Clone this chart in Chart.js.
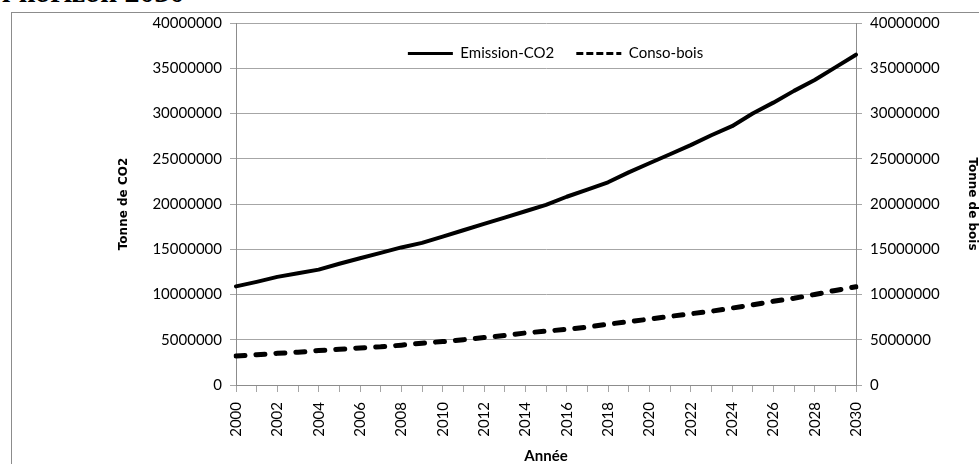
<!DOCTYPE html>
<html>
<head>
<meta charset="utf-8">
<script src="https://cdn.jsdelivr.net/npm/chart.js@4/dist/chart.umd.min.js"></script>
<style>
  html, body { margin: 0; padding: 0; background: #ffffff; }
  #wrap { position: relative; width: 979px; height: 464px; overflow: hidden; background: #ffffff; }
  #frame { position: absolute; left: 11px; top: 12px; width: 1000px; height: 500px;
           border-left: 1px solid #8c8c8c; border-top: 1px solid #8c8c8c; }
  #heading { position: absolute; left: 2px; top: -23px; margin: 0; white-space: nowrap;
             font-family: "Liberation Serif", "Times New Roman", serif; font-weight: bold;
             font-size: 30px; line-height: 30px; color: #000; }
  canvas { position: absolute; left: 0; top: 0; }
</style>
</head>
<body>
<div id="wrap">
  <div id="heading">l'horizon 2030</div>
  <div id="frame"></div>
  <canvas id="chart" width="979" height="464"></canvas>
</div>
<script>
// Years on the horizontal axis
const years = ['2000','2001','2002','2003','2004','2005','2006','2007','2008','2009',
               '2010','2011','2012','2013','2014','2015','2016','2017','2018','2019',
               '2020','2021','2022','2023','2024','2025','2026','2027','2028','2029','2030'];

// CO2 emissions (tonnes)
const emissionCO2 = [10900000, 11400000, 11950000, 12350000, 12750000, 13400000, 14000000,
                     14600000, 15200000, 15700000, 16400000, 17100000, 17800000, 18500000,
                     19200000, 19900000, 20800000, 21600000, 22400000, 23500000, 24500000,
                     25500000, 26500000, 27600000, 28600000, 30000000, 31200000, 32500000,
                     33700000, 35100000, 36500000];

// Wood consumption (tonnes)
const consoBois = [3200000, 3350000, 3500000, 3620000, 3800000, 3950000, 4100000, 4220000,
                   4400000, 4620000, 4800000, 5000000, 5250000, 5470000, 5750000, 5950000,
                   6150000, 6400000, 6720000, 7000000, 7280000, 7580000, 7870000, 8150000,
                   8500000, 8850000, 9250000, 9580000, 10000000, 10450000, 10850000];

// Shared value ticks for both vertical axes
const yMin = 0;
const yMax = 40000000;
const yStep = 5000000;

const gridGrey = '#a6a6a6';
const axisGrey = '#8c8c8c';
const tickFont = { family: 'Lato, "Open Sans", sans-serif', size: 15 };

// The legend takes no layout room; it is then placed inside the top of the plot
const legendInPlot = {
  id: 'legendInPlot',
  afterLayout(chart) {
    const lg = chart.legend;
    if (!lg) return;
    lg.top = 24;
    lg.bottom = 100;
    lg.height = 76;
    lg.left += 66;
    lg.right += 66;
  }
};

new Chart(document.getElementById('chart'), {
  type: 'line',
  data: {
    labels: years,
    datasets: [
      {
        label: 'Emission-CO2',
        data: emissionCO2,
        yAxisID: 'y',
        borderColor: '#000000',
        backgroundColor: '#000000',
        borderWidth: 4,
        pointRadius: 0,
        tension: 0,
        borderCapStyle: 'round',
        borderJoinStyle: 'round'
      },
      {
        label: 'Conso-bois',
        data: consoBois,
        yAxisID: 'y1',
        borderColor: '#000000',
        backgroundColor: '#000000',
        borderWidth: 5,
        borderDash: [9, 11],
        borderCapStyle: 'round',
        pointRadius: 0,
        tension: 0
      }
    ]
  },
  options: {
    responsive: false,
    animation: false,
    layout: { padding: { left: 0, right: 0, top: 22, bottom: 0 } },
    plugins: {
      tooltip: { enabled: false },
      title: { display: false },
      legend: {
        display: true,
        position: 'top',
        align: 'center',
        maxHeight: 1,
        labels: {
          usePointStyle: true,
          pointStyleWidth: 45,
          boxWidth: 45,
          boxHeight: 15,
          padding: 22,
          color: '#000000',
          font: { family: 'Lato, "Open Sans", sans-serif', size: 15 },
          generateLabels(chart) {
            const items = Chart.defaults.plugins.legend.labels.generateLabels(chart);
            items.forEach(it => {
              const ds = chart.data.datasets[it.datasetIndex];
              it.pointStyle = 'line';
              it.rotation = 0;
              it.lineWidth = 3;
              it.lineCap = 'butt';
              it.lineDash = (ds.borderDash && ds.borderDash.length) ? [7, 3] : [];
            });
            return items;
          }
        }
      }
    },
    scales: {
      x: {
        type: 'category',
        offset: false,
        afterFit(scale) { scale.height = 79; },
        grid: { display: true, drawOnChartArea: false, drawTicks: true, tickLength: 7, color: gridGrey },
        border: { display: true, color: axisGrey, width: 1 },
        ticks: {
          autoSkip: false,
          maxRotation: 90,
          minRotation: 90,
          padding: 10,
          color: '#000000',
          font: { family: 'Lato, "Open Sans", sans-serif', size: 15 },
          callback(value) {
            const lbl = this.getLabelForValue(value);
            return (parseInt(lbl, 10) % 2 === 0) ? lbl : '';
          }
        },
        title: {
          display: true,
          text: 'Année',
          color: '#000000',
          padding: { top: 0, bottom: 0 },
          font: { family: 'Lato, "Open Sans", sans-serif', size: 15, weight: 'bold', lineHeight: 1 }
        }
      },
      y: {
        position: 'left',
        min: yMin,
        max: yMax,
        afterFit(scale) { scale.width = 236; },
        grid: { display: true, drawOnChartArea: true, drawTicks: true, tickLength: 6, color: gridGrey },
        border: { display: true, color: axisGrey, width: 1 },
        ticks: {
          stepSize: yStep,
          padding: 8,
          color: '#000000',
          font: tickFont,
          callback(v) { return String(v); }
        },
        title: {
          display: true,
          text: 'Tonne de CO2',
          color: '#000000',
          padding: { top: 117, bottom: 0 },
          font: { family: '"DejaVu Sans", sans-serif', size: 12, weight: 'bold' }
        }
      },
      y1: {
        position: 'right',
        min: yMin,
        max: yMax,
        afterFit(scale) { scale.width = 123; },
        grid: { display: true, drawOnChartArea: false, drawTicks: true, tickLength: 6, color: gridGrey },
        border: { display: true, color: axisGrey, width: 1 },
        ticks: {
          stepSize: yStep,
          padding: 8,
          color: '#000000',
          font: tickFont,
          callback(v) { return String(v); }
        },
        title: {
          display: true,
          text: 'Tonne de bois',
          color: '#000000',
          padding: { top: 0, bottom: 0 },
          font: { family: '"DejaVu Sans", sans-serif', size: 12, weight: 'bold' }
        }
      }
    }
  },
  plugins: [legendInPlot]
});
</script>
</body>
</html>
